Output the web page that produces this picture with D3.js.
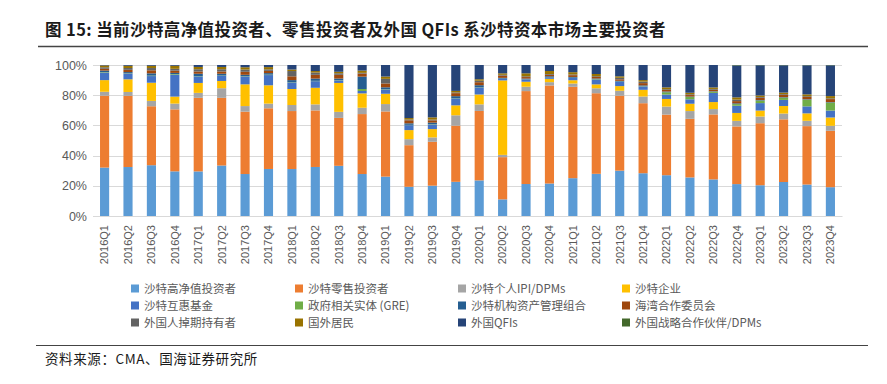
<!DOCTYPE html>
<html>
<head>
<meta charset="utf-8">
<script src="https://cdn.jsdelivr.net/npm/d3@7"></script>
<style>
  body { margin: 0; background: #fff; }
  svg { display: block; }
</style>
</head>
<body>
<div class="chart"></div>
<script>
const quarters = [
  "2016Q1","2016Q2","2016Q3","2016Q4","2017Q1","2017Q2","2017Q3","2017Q4",
  "2018Q1","2018Q2","2018Q3","2018Q4","2019Q1","2019Q2","2019Q3","2019Q4",
  "2020Q1","2020Q2","2020Q3","2020Q4","2021Q1","2021Q2","2021Q3","2021Q4",
  "2022Q1","2022Q2","2022Q3","2022Q4","2023Q1","2023Q2","2023Q3","2023Q4"
];

const seriesNames = [
  "沙特高净值投资者", "沙特零售投资者", "沙特个人IPI/DPMs", "沙特企业",
  "沙特互惠基金", "政府相关实体 (GRE)", "沙特机构资产管理组合", "海湾合作委员会",
  "外国人掉期持有者", "国外居民", "外国QFIs", "外国战略合作伙伴/DPMs"
];

const seriesColors = [
  "#5b9bd5", "#ed7d31", "#a5a5a5", "#ffc000",
  "#4472c4", "#70ad47", "#255e91", "#9e480e",
  "#636363", "#997300", "#264478", "#43682b"
];

// shares in %, one value per quarter
const hnwi = [32,32.5,33.5,29.4,29.6,33.5,27.8,31.3,31.1,32.5,33.3,27.8,25.6,19.4,20.1,22.7,
  23.8,11,21.2,21.6,25.3,28.1,30.1,28.1,26.8,25.3,24,21.3,20.2,22.4,20.7,19.1];
const retail = [47.5,47.2,38.9,40.8,48.8,44.9,41.3,40.4,38.4,37.5,31.8,39.7,42.4,27.6,29.1,37.3,
  46.4,27.9,61.6,65.2,61.1,53.7,49.7,46,39.8,38.4,42.6,38.5,40.7,41.3,38.4,37.4];
const ipi = [2.6,2.6,3.5,3.8,3.3,6.4,3.7,3.1,4,4,4,4.2,4.8,4,2.9,6.9,
  4.4,1.5,2.9,2.2,2.2,3.3,3.3,4.4,5.3,5.1,3.5,3.7,4.4,3.8,3.5,3.3];
const corporates = [7.7,8.4,12,4.6,6.6,4.8,14.4,12.2,10.6,11,19.2,9.5,6.7,6,5.5,6.6,
  6.6,49.2,3.3,2.2,2.2,2.6,3.1,4.4,5,4.8,4.6,5.3,3.9,5,4.9,5.5];
const mutualFunds = [5,3.8,4.4,14.4,4.4,3.4,5.1,6.8,4.2,4.4,1.7,1.6,2.8,3.3,3.1,4.4,
  4.5,1.1,1.5,1.1,1.5,3.1,2.8,2.2,2.9,2.9,6,4.8,4.9,4,4.6,4.6];
const gre = [0.3,0.2,0.3,0.4,0.2,0.2,0.2,0.3,0.2,0.2,0.2,1.3,0.2,0.2,0.2,0.2,
  0.2,0.1,0.1,0.1,0.2,0.3,0.2,0.2,1.5,1.5,0.8,1.1,1.7,1.5,4.4,5.3];
const dpm = [1,0.8,1.5,0.8,1.5,1.2,1,1,1.5,1.5,1,8.2,1.2,1,1,1.5,
  1.5,0.5,0.5,0.5,0.5,0.5,0.5,0.5,0.5,0.3,0.3,0.5,0.3,0.3,0.3,0.3];
const gcc = [1.2,1.5,2,1.5,1.5,1.5,2,1.5,2.5,2.5,2.5,2,2.5,2,1.5,2,
  2,1.5,1,1,1.2,1,1,1.5,1,1,1,1.5,1.5,1.5,1.5,2];
const swapHolders = [1,1.2,1.5,1.2,1.5,1.5,1.5,1,3.5,1.5,1,0.5,3,0.5,0.5,0.5,
  1,0.5,0.5,0.5,0.5,0.5,1,1,0.5,0.5,0.5,1,0.5,0.5,0.5,0.5];
const residents = [1.2,1.5,1.5,2,1.5,1.5,1.5,1.5,1,1,1,1.5,1.5,1,1.5,1,
  1,1,2,2,1.5,1.5,1,1,1.2,1,1,1.5,1,1,1.2,1.5];
const qfis = [0.3,0.5,0.5,0.5,1.3,1.3,1.5,1.4,3,4,4.5,3.7,7.5,35.2,34.7,17.2,
  9.5,5.5,5.5,4,4.8,6,7.5,9.9,14.7,18.2,14.7,21.3,19.8,18,19.1,20.4];
const strategic = [0,0,0,0,0,0,0,0,0,0,0,0,0,0,0,0,
  0,0,0,0,0,0,0,0,0,0,0,0.3,0.2,0.2,0.2,0.2];

const seriesValues = [hnwi, retail, ipi, corporates, mutualFunds, gre, dpm, gcc,
  swapHolders, residents, qfis, strategic];

const yTicks = [0, 0.2, 0.4, 0.6, 0.8, 1];

const W = 887, H = 384;
const svg = d3.select(".chart").append("svg")
  .attr("width", W)
  .attr("height", H)
  .style("font-family", "'Liberation Sans', Arial, sans-serif");

// title
svg.append("text")
  .attr("x", 45)
  .attr("y", 36)
  .style("font-family", "'Noto Sans CJK SC', 'Liberation Sans', sans-serif")
  .style("font-size", "16.5px")
  .style("font-weight", "bold")
  .style("letter-spacing", "0.4px")
  .attr("fill", "#1a1a1a")
  .text("图 15:  当前沙特高净值投资者、零售投资者及外国 QFIs 系沙特资本市场主要投资者");

svg.append("line")
  .attr("x1", 38).attr("x2", 868)
  .attr("y1", 46.5).attr("y2", 46.5)
  .attr("stroke", "#444")
  .attr("stroke-width", 1.3);

// table for the stack
const table = quarters.map((q, i) => {
  const row = { key: q };
  seriesNames.forEach((s, j) => { row[s] = seriesValues[j][i]; });
  return row;
});

const stacked = d3.stack()
  .keys(seriesNames)
  .offset(d3.stackOffsetExpand)(table);

const x = d3.scaleBand()
  .domain(quarters)
  .range([93, 842])
  .paddingInner(0.61)
  .paddingOuter(0.3);

const y = d3.scaleLinear()
  .domain([0, 1])
  .range([216, 65]);

const color = d3.scaleOrdinal()
  .domain(seriesNames)
  .range(seriesColors);

// grid
svg.append("g")
  .selectAll("line")
  .data(yTicks)
  .join("line")
    .attr("x1", 93)
    .attr("x2", 842)
    .attr("y1", d => Math.round(y(d)) + 0.5)
    .attr("y2", d => Math.round(y(d)) + 0.5)
    .attr("stroke", "#d9d9d9")
    .attr("stroke-width", 1);

// y axis labels
const yAxis = svg.append("g")
  .attr("transform", "translate(93,0)")
  .call(d3.axisLeft(y).tickValues(yTicks).tickFormat(d3.format(".0%")).tickSize(0).tickPadding(6));
yAxis.select(".domain").remove();
yAxis.selectAll("text")
  .style("font-size", "12.5px")
  .attr("fill", "#595959");

// bars
svg.append("g")
  .selectAll("g")
  .data(stacked)
  .join("g")
    .attr("fill", d => color(d.key))
    .selectAll("rect")
    .data(d => d)
    .join("rect")
      .attr("x", d => x(d.data.key))
      .attr("y", d => y(d[1]))
      .attr("height", d => Math.max(0, y(d[0]) - y(d[1])))
      .attr("width", x.bandwidth());

// x axis
const xAxis = svg.append("g")
  .attr("transform", "translate(0,216)")
  .call(d3.axisBottom(x).tickSize(0).tickPadding(0));
xAxis.select(".domain")
  .attr("stroke", "#d9d9d9");
xAxis.selectAll("text")
  .attr("transform", "rotate(-90)")
  .attr("x", -9)
  .attr("y", 0)
  .attr("dy", "0.35em")
  .style("text-anchor", "end")
  .style("font-size", "11px")
  .attr("fill", "#595959");

// legend
const legendCols = [131, 295, 458, 622];
const legendRows = [289, 306, 323];
const legend = svg.append("g")
  .selectAll("g")
  .data(seriesNames)
  .join("g")
    .attr("transform", (d, i) => `translate(${legendCols[i % 4]},${legendRows[Math.floor(i / 4)]})`);
legend.append("rect")
  .attr("x", 0).attr("y", -4.5)
  .attr("width", 8).attr("height", 8)
  .attr("fill", d => color(d));
legend.append("text")
  .attr("x", 13)
  .attr("y", 0)
  .attr("dy", "0.35em")
  .style("font-family", "'Noto Sans CJK SC', sans-serif")
  .style("font-size", "11.5px")
  .attr("fill", "#595959")
  .text(d => d);

// source
svg.append("line")
  .attr("x1", 36).attr("x2", 868)
  .attr("y1", 345.5).attr("y2", 345.5)
  .attr("stroke", "#444")
  .attr("stroke-width", 1);

svg.append("text")
  .attr("x", 45)
  .attr("y", 364)
  .style("font-family", "'Noto Sans CJK SC', 'Liberation Sans', sans-serif")
  .style("font-size", "13.5px")
  .style("letter-spacing", "0.6px")
  .attr("fill", "#1a1a1a")
  .text("资料来源：CMA、国海证券研究所");
</script>
</body>
</html>
